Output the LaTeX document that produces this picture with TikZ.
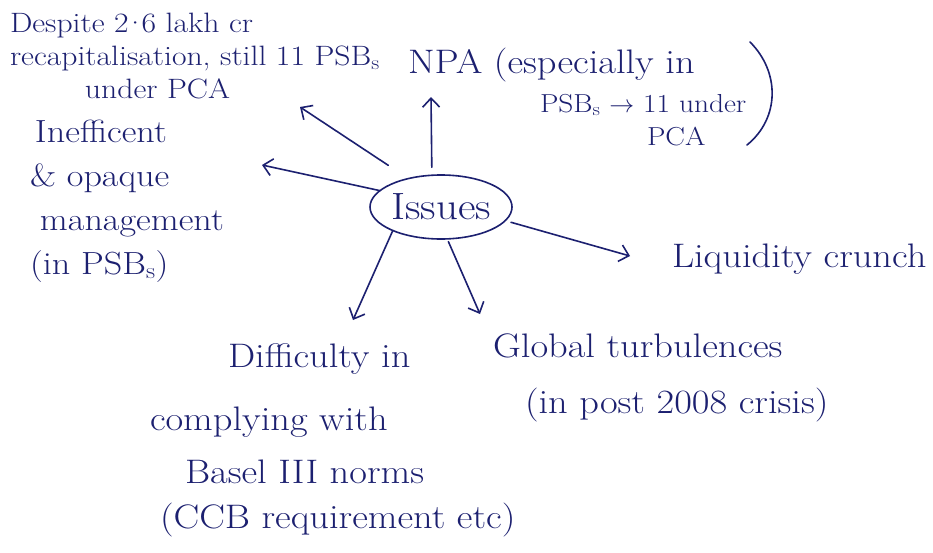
\documentclass[tikz,border=0pt]{standalone}
\usepackage{fontspec}
\setmainfont{lmroman17-regular.otf}[FakeStretch=1.13]
\usetikzlibrary{arrows.meta,shapes.geometric}
\definecolor{ink}{RGB}{28,32,112}
\newcommand\psbs{PSB\textsubscript{s}}

\begin{document}
\begin{tikzpicture}[x=1pt,y=-1pt,
  every node/.style={text=ink, inner sep=0pt, outer sep=0pt},
  note/.style={anchor=north west, align=left},
  spoke/.style={draw=ink, line width=1.6pt, line cap=round, line join=round,
    -{Straight Barb[length=9pt,width=17pt]}}]
\fill[white] (0,0) rectangle (933,552);
\useasboundingbox (0,0) rectangle (933,552);

% central topic
\node[ellipse, draw=ink, line width=1.6pt, minimum width=142pt, minimum height=64pt,
  font=\fontsize{38}{40}\selectfont] (issues) at (441,207) {Issues};

% surrounding issues
\node[note, font=\fontsize{28}{33}\selectfont] (recap) at (10,13)
  {Despite 2\kern-5pt·\kern-5pt6 lakh cr\\ recapitalisation, still 11 \psbs\\ \hspace*{75pt}under PCA};
\node[anchor=base west, font=\fontsize{34}{40}\selectfont] (npa) at (408,73)
  {NPA (especially in};
\node[note, font=\fontsize{26}{33}\selectfont] (npanote) at (540,94)
  {\psbs{} $\rightarrow$ 11 under\\ \hspace*{107pt}PCA};
\draw[ink, line width=1.6pt, line cap=round] (750,42) .. controls (780,72) and (780,118) .. (747,145);

\node[note, font=\fontsize{32}{44}\selectfont] (mgmt) at (30,120)
  {\hspace*{5pt}Inefficent\\ \& opaque\\ \hspace*{10pt}management\\ (in \psbs)};
\node[anchor=base west, font=\fontsize{34}{40}\selectfont] (liquidity) at (672,267)
  {Liquidity crunch};
\node[note, font=\fontsize{34}{56}\selectfont] (global) at (493,333.5)
  {Global turbulences\\ \hspace*{32pt}(in post 2008 crisis)};
\node[note, font=\fontsize{34}{50}\selectfont] (basel) at (150,343.5)
  {\hspace*{78pt}Difficulty in\\[13pt] complying with\\[3pt] \hspace*{35pt}Basel III norms\\[-5pt] \hspace*{10pt}(CCB requirement etc)};

% arrow tips
\coordinate (tipUp) at (431,97);
\coordinate (tipUL) at (300,107);
\coordinate (tipL) at (262,165);
\coordinate (tipR) at (630,256);
\coordinate (tipDL) at (353,320);
\coordinate (tipDR) at (480,314);

\draw[spoke, shorten <=8pt] (issues.106) -- (tipUp);
\draw[spoke, shorten <=24pt] (issues.139) -- (tipUL);
\draw[spoke] (issues.165) -- (tipL);
\draw[spoke, shorten <=6pt] (issues.348) -- (tipR);
\draw[spoke] (issues.206) -- (tipDL);
\draw[spoke, shorten <=3pt] (issues.281) -- (tipDR);
\end{tikzpicture}
\end{document}
